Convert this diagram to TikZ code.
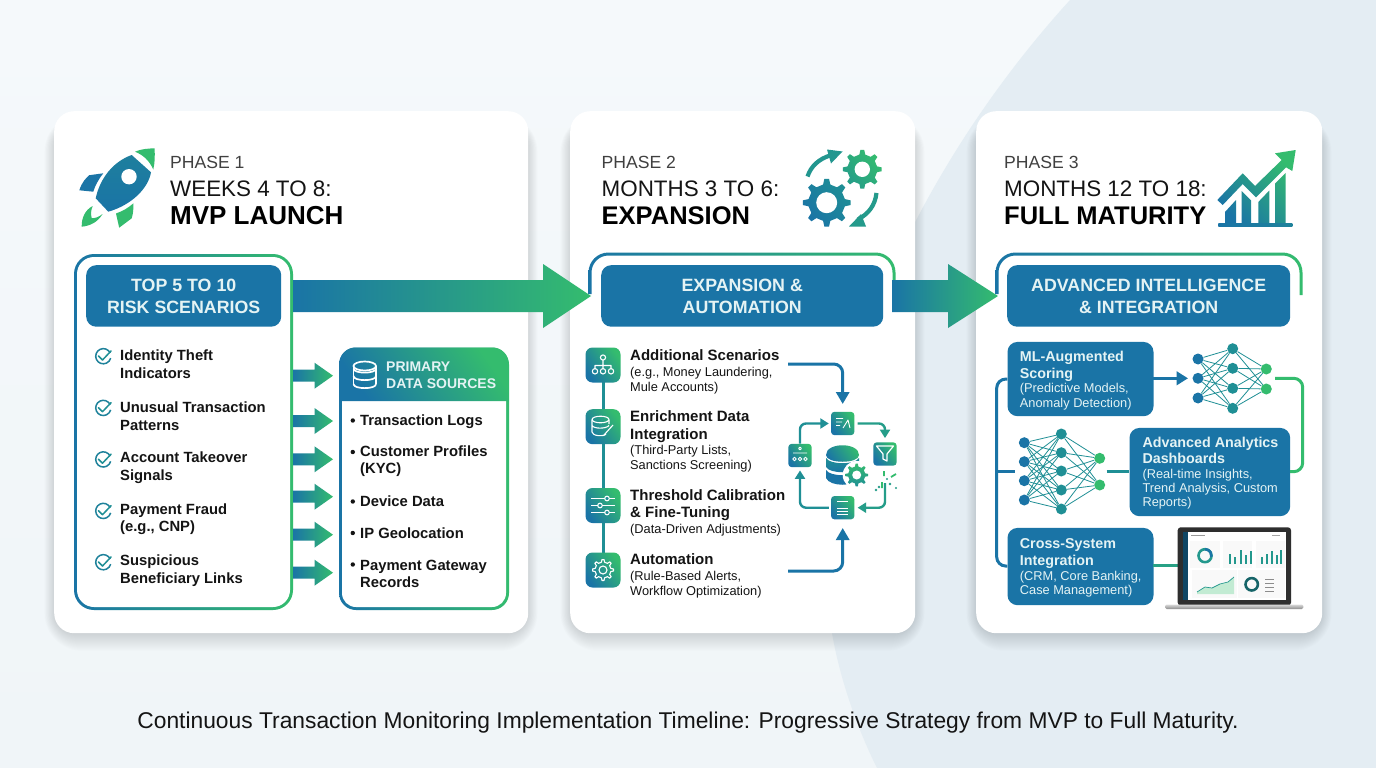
\documentclass[tikz,border=0pt]{standalone}
\usepackage{fontspec}
\setmainfont{Liberation Sans}
\usetikzlibrary{arrows.meta,calc}
\definecolor{cblue}{HTML}{1A74A6}
\definecolor{cgreen}{HTML}{34BC6E}
\definecolor{cteal}{HTML}{1F8F95}
\definecolor{cpale}{HTML}{E4F3F4}
\definecolor{cink}{HTML}{141414}
\definecolor{bgone}{HTML}{F5F9FB}
\definecolor{bgonb}{HTML}{F0F5F8}
\definecolor{bgtwo}{HTML}{E4EDF3}
\newcommand{\fs}[2]{\fontsize{#1}{#2}\selectfont}
% gear outline: centre x, centre y, root r, tip r, teeth
\newcommand{\gearpath}[5]{%
  ({#1+#3*cos(0-90/#5)},{#2+#3*sin(0-90/#5)})
  \foreach \gi [evaluate=\gi as \ga using {(\gi-1)*360/#5}] in {1,...,#5} {
    -- ({#1+#4*cos(\ga-45/#5)},{#2+#4*sin(\ga-45/#5)})
    -- ({#1+#4*cos(\ga+45/#5)},{#2+#4*sin(\ga+45/#5)})
    -- ({#1+#3*cos(\ga+90/#5)},{#2+#3*sin(\ga+90/#5)})
    -- ({#1+#3*cos(\ga+270/#5)},{#2+#3*sin(\ga+270/#5)})
  } -- cycle}
\tikzset{
  lr/.style={left color=cblue,right color=cgreen},
  diag/.style={bottom color=cblue,top color=cgreen,shading angle=-55},
  phasehead/.style={anchor=west,inner sep=0pt,text=black!75,font=\fs{17.6}{20}},
  weekhead/.style={anchor=west,inner sep=0pt,text=cink,font=\fs{22.4}{26}},
  titlehead/.style={anchor=west,inner sep=0pt,text=black,font=\fs{26}{30}\bfseries},
  titlesmall/.style={titlehead,font=\fs{25.5}{30}\bfseries},
  bandbox/.style={draw=none,fill=cblue,rounded corners=10pt,inner sep=0pt,text=cpale,align=center,font=\fs{17.8}{22}\bfseries},
  item/.style={anchor=west,inner sep=0pt,align=left,text=cink,font=\fs{14.8}{17.6}\bfseries},
  stepitem/.style={item,font=\fs{15}{17.5}\bfseries},
  bluebox/.style={draw=none,fill=cblue,rounded corners=10pt,inner sep=0pt},
  boxtext/.style={anchor=west,inner sep=0pt,align=left,text=cpale,font=\fs{14.3}{16.4}\bfseries},
  iconbox/.style={minimum size=35pt,inner sep=0pt,rounded corners=7pt,diag},
  miniicon/.style={minimum size=23.4pt,inner sep=0pt,rounded corners=3.5pt,diag},
  link/.style={line width=3pt,cblue,rounded corners=9pt},
  looplink/.style={line width=2.4pt,rounded corners=6pt,-{Triangle[length=8.5pt,width=10pt]}},
  neuron/.style={circle,minimum size=11pt,inner sep=0pt},
  synapse/.style={line width=.8pt,cteal},
  glyph/.style={draw=white,line width=1.1pt,fill=none},
}
\begin{document}
\begin{tikzpicture}[x=1pt,y=-1pt,line join=round]
\useasboundingbox (0,0) rectangle (1376,768);
% background
\shade[top color=bgone,bottom color=bgonb] (0,0) rectangle (1376,768);
\fill[bgtwo] (1070,0) .. controls (915,170) and (795,420) .. (832,633) .. controls (840,680) and (858,730) .. (877,768) -- (1376,768) -- (1376,0) -- cycle;
% card shadows and cards
\foreach \cx/\cw in {54/474,570/345,976/346}{
  \foreach \sd in {1,...,18}{
    \fill[black!55!cblue,opacity=.008,rounded corners=20pt+\sd pt] ({\cx-\sd*.6+1},{125-\sd*.6}) rectangle ({\cx+\cw+\sd*.6-1},{633+\sd});
  }
}
\node[fill=white,rounded corners=20pt,minimum width=474pt,minimum height=522pt,inner sep=0pt,anchor=north west] (cardA) at (54,111) {};
\node[fill=white,rounded corners=20pt,minimum width=345pt,minimum height=522pt,inner sep=0pt,anchor=north west] (cardB) at (570,111) {};
\node[fill=white,rounded corners=20pt,minimum width=346pt,minimum height=522pt,inner sep=0pt,anchor=north west] (cardC) at (976,111) {};

% ---------- headings
\node[phasehead] (pA) at (170,162.5) {PHASE 1};
\node[weekhead] (wA) at (170,189) {WEEKS 4 TO 8:};
\node[titlehead] (tA) at (170,216) {MVP LAUNCH};
\node[phasehead] (pB) at (601.5,162.5) {PHASE 2};
\node[weekhead] (wB) at (601.5,189) {MONTHS 3 TO 6:};
\node[titlesmall] (tB) at (601.5,216) {EXPANSION};
\node[phasehead] (pC) at (1004,162.5) {PHASE 3};
\node[weekhead] (wC) at (1004,189) {MONTHS 12 TO 18:};
\node[titlesmall] (tC) at (1004,216) {FULL MATURITY};

% rocket
\fill[cgreen] (135,151.7) .. controls (141,149) and (148,148.5) .. (154.5,148.3) .. controls (155,155) and (155,162) .. (153.3,169.5) .. controls (149,160) and (143,155) .. (135,151.7) -- cycle;
\shade[bottom color=cblue,top color=cblue!85!cgreen] (131.7,155) -- (151,172.3) .. controls (148.3,188.3) and (131.7,205) .. (108.3,211.7) -- (95.7,198.3) .. controls (100,178.3) and (113,161.7) .. (131.7,155) -- cycle;
\fill[white] (129,176.7) circle (7.7);
\fill[cblue] (79.3,190.3) .. controls (82,182) and (86,178) .. (89.3,175.2) -- (103.3,173.3) .. controls (98,180) and (95,186) .. (93.3,191.7) -- cycle;
\fill[cgreen] (116,213.5) .. controls (123,211) and (128,208) .. (133.5,203.3) .. controls (133.5,210) and (133,214) .. (131.7,218.3) -- (119.2,227.7) -- cycle;
\fill[cgreen] (92.7,206) .. controls (85,210) and (81.5,218) .. (81.7,226.7) .. controls (90,226) and (98,222) .. (102.5,214) .. controls (99,217) and (95,218.5) .. (91.7,218) .. controls (90.5,214) and (91,210) .. (92.7,206) -- cycle;

% gears icon
\shade[bottom color=cblue,top color=cteal,shading angle=-50] \gearpath{826.7}{202.7}{18.5}{24}{8};
\fill[white] (826.7,202.7) circle (10.5);
\shade[bottom color=cteal!70!cgreen,top color=cgreen,shading angle=-50] \gearpath{862.3}{169.3}{15}{19.5}{8};
\fill[white] (862.3,169.3) circle (7.7);
\draw[line width=4.2pt,cteal!85!cgreen] (807.5,176.5) .. controls (811,166) and (819,159) .. (830,155.5);
\fill[cteal!85!cgreen] (827,149.5) -- (842.5,151.5) -- (831,163.5) -- cycle;
\draw[line width=4.2pt,cteal!75!cgreen] (876.5,193) .. controls (875,206) and (868,214) .. (858,219.5);
\fill[cteal!75!cgreen] (849,226.5) -- (861,214) -- (866,226.5) -- cycle;

% growth chart icon
\shade[bottom color=cblue,top color=cgreen,shading angle=-45]
  (1225,212) -- (1236,200) -- (1236,224) -- (1225,224) -- cycle
  (1241.7,191) -- (1251,200.5) -- (1251,224) -- (1241.7,224) -- cycle
  (1258.3,202) -- (1269.3,190.5) -- (1269.3,224) -- (1258.3,224) -- cycle
  (1275,183.5) -- (1285.7,173) -- (1285.7,224) -- (1275,224) -- cycle
  (1217.3,200) -- (1242.7,173.3) -- (1255,186) -- (1281.7,160) -- (1275,153.3) -- (1295.7,150) -- (1292.3,171) -- (1286,167.3) -- (1256,197.3) -- (1242.7,184) -- (1222.7,205) -- cycle;
\shade[left color=cblue,right color=cblue!80!cgreen] (1218.3,223.3) rectangle (1292.3,226.7);

% ---------- frames of the panels
\shade[lr,rounded corners=20pt] (74,254) rectangle (293,610);
\fill[white,rounded corners=17pt] (77,257) rectangle (290,607);
\node[bandbox,minimum width=195pt,minimum height=61.5pt,anchor=north west] (bandA) at (86,265) {TOP 5 TO 10\\RISK SCENARIOS};

% open frames
\shade[lr] (588.5,294) [rounded corners=20pt] -- (588.5,252.5) -- (895.5,252.5) [sharp corners] -- (895.5,280) -- (892.5,280) [rounded corners=17pt] -- (892.5,255.5) -- (591.5,255.5) [sharp corners] -- (591.5,294) -- cycle;
\shade[lr] (995.5,294) [rounded corners=20pt] -- (995.5,252.5) -- (1302.5,252.5) [sharp corners] -- (1302.5,295) -- (1299.5,295) [rounded corners=17pt] -- (1299.5,255.5) -- (998.5,255.5) [sharp corners] -- (998.5,294) -- cycle;
\node[bandbox,minimum width=282pt,minimum height=61.5pt,anchor=north west] (bandB) at (601,265) {EXPANSION \&\\AUTOMATION};
\node[bandbox,minimum width=283pt,minimum height=61.5pt,anchor=north west] (bandC) at (1007,265) {ADVANCED INTELLIGENCE\\\& INTEGRATION};

% big arrows
\shade[lr] (293,280) -- (543,280) -- (543,264) -- (591,296) -- (543,328) -- (543,312) -- (293,312) -- cycle;
\shade[lr] (892,280) -- (948,280) -- (948,264) -- (998,296) -- (948,328) -- (948,312) -- (892,312) -- cycle;

% ---------- phase 1 risk list
\foreach \yc/\txt in {356/{Identity Theft\\Indicators},407.7/{Unusual Transaction\\Patterns},459.2/{Account Takeover\\Signals},510.7/{Payment Fraud\\(e.g., CNP)},562/{Suspicious\\Beneficiary Links}}{
  \draw[line width=1.5pt,cblue!80!cgreen] (110.2,\yc-3) arc (-25:-345:7.6);
  \draw[line width=1.5pt,cteal,line cap=round] (98.5,\yc) -- (102.5,\yc+4) -- (111,\yc-5);
  \node[item] at (120,\yc+8.4) {\txt};
}
% small arrows
\foreach \yc in {375.7,421,459.3,496.7,534.7,572.7}{
  \shade[lr] (293,\yc-6) -- (314.5,\yc-6) -- (314.5,\yc-13) -- (333,\yc) -- (314.5,\yc+13) -- (314.5,\yc+6) -- (293,\yc+6) -- cycle;
}
% data sources
\shade[lr,rounded corners=17pt] (339,347.5) rectangle (509,610);
\fill[white] (342,401) -- (506,401) [rounded corners=14pt] -- (506,607) -- (342,607) [sharp corners] -- cycle;
\shade[diag] (339.5,401) [rounded corners=16pt] -- (339.5,347.5) -- (508.5,347.5) [sharp corners] -- (508.5,401) -- cycle;
\foreach \dy in {368.5,376,384}{
  \draw[glyph,line width=1.7pt] (353.5,\dy) .. controls (353.5,\dy+5.5) and (376,\dy+5.5) .. (376,\dy);
}
\draw[glyph,line width=1.7pt] (364.75,366) ellipse (11.25 and 4.5);
\draw[glyph,line width=1.7pt] (353.5,366) -- (353.5,384) (376,366) -- (376,384);
\node[anchor=west,inner sep=0pt,align=left,text=cpale,font=\fs{14}{17.5}\bfseries] (dsHead) at (386,375) {PRIMARY\\DATA SOURCES};
\foreach \yc/\txt in {421.5/{Transaction Logs},461.2/{Customer Profiles\\(KYC)},501/{Device Data},533/{IP Geolocation},573.7/{Payment Gateway\\Records}}{
  \node[item] at (360,\yc) {\txt};
}
\foreach \yc in {420,451.5,501,532.5,564}{ \fill[cink] (352.8,\yc+.5) circle (2.2); }

% ---------- phase 2 steps
\draw[line width=3pt,cteal] (603,365) -- (603,570);
\node[iconbox] (ib1) at (603,365) {};
\node[iconbox] (ib2) at (603,426.7) {};
\node[iconbox] (ib3) at (603,505.5) {};
\node[iconbox] (ib4) at (603,570) {};
% org glyph
\draw[glyph] (603,357.5) circle (2.6) (603,360) -- (603,365.5) (595,368.5) -- (595,365.5) -- (611,365.5) -- (611,368.5) (603,365.5) -- (603,368.5);
\draw[glyph] (595,371.3) circle (2.7) (603,371.3) circle (2.7) (611,371.3) circle (2.7);
% db-edit glyph
\draw[glyph] (600.5,419.5) ellipse (8.5 and 3.3);
\draw[glyph] (592,419.5) -- (592,432) .. controls (592,436) and (604,437) .. (606,434) (592,425.5) .. controls (594,429) and (606,429) .. (609,425.5) (609,419.5) -- (609,424);
\draw[glyph] (604,435) -- (613,425);
% sliders glyph
\draw[glyph] (591,498.5) -- (615,498.5) (591,505.5) -- (615,505.5) (591,512.5) -- (615,512.5);
\fill[cteal] (607,498.5) circle (2.3) (600,505.5) circle (2.3) (607,512.5) circle (2.3);
\draw[glyph] (607,498.5) circle (2.3) (600,505.5) circle (2.3) (607,512.5) circle (2.3);
% gear glyph
\draw[glyph] \gearpath{603}{570}{8}{10.5}{8};
\draw[glyph] (603,570) circle (4);

\node[stepitem] (st1) at (630,372) {Additional Scenarios\\[-1.5pt]{\fs{12.8}{14.5}\mdseries (e.g., Money Laundering,}\\[-2.5pt]{\fs{12.8}{14.5}\mdseries Mule Accounts)}};
\node[stepitem] (st2) at (630,441.7) {Enrichment Data\\Integration\\[-2pt]{\fs{12.8}{15}\mdseries (Third-Party Lists,}\\[-2.5pt]{\fs{12.8}{15}\mdseries Sanctions Screening)}};
\node[stepitem] (st3) at (630,513) {Threshold Calibration\\\& Fine-Tuning\\[-1.5pt]{\fs{12.8}{15}\mdseries (Data-Driven Adjustments)}};
\node[stepitem] (st4) at (630,576) {Automation\\[-1.5pt]{\fs{12.8}{14.5}\mdseries (Rule-Based Alerts,}\\[-2.5pt]{\fs{12.8}{14.5}\mdseries Workflow Optimization)}};

% mini cycle
\node[miniicon] (mT) at (842.7,423.5) {};
\node[miniicon] (mL) at (800,455.5) {};
\node[miniicon] (mR) at (885,454) {};
\node[miniicon] (mB) at (842.7,507.7) {};
\coordinate (inTop) at (788,364);
\coordinate (inBot) at (788,571);
\draw[link,-{Triangle[length=12pt,width=13pt]}] (inTop) -| (mT.north |- 0,404);
\draw[link,-{Triangle[length=12pt,width=13pt]}] (inBot) -| (mB.south |- 0,528);
\draw[looplink,cteal] (mL.north) |- ([xshift=-2pt]mT.west);
\draw[looplink,cteal!70!cgreen] ([xshift=3pt]mT.east) -| ([yshift=4pt]mR.north);
\coordinate (scatter) at (885,483);
\draw[looplink,cteal!70!cgreen] (scatter) |- ([xshift=3pt]mB.east);
\draw[looplink,cteal] ([xshift=-2pt]mB.west) -| ([yshift=-3pt]mL.south);
% mini glyphs
\draw[glyph,line width=.9pt] (836,418.5) -- (843,418.5) (836,422) -- (842,422) (836,425.5) -- (840,425.5) (843,428) -- (848,420) -- (850,428);
\draw[glyph,line width=.9pt] (800,448.5) circle (1.4) (793,453) -- (807,453);
\draw[glyph,line width=.9pt] (794.5,459) circle (1.8) (800,459) circle (1.8) (805.5,459) circle (1.8);
\draw[glyph,line width=1.2pt] (876.5,446) -- (893.5,446) -- (887,454) -- (887,461) -- (883,459) -- (883,454) -- cycle;
\draw[glyph,line width=.9pt] (837,501.5) -- (848,501.5) (837,508) -- (848,508) (837,511) -- (848,511) (837,514) -- (848,514);
% scatter marks
\draw[cgreen,line width=1.8pt] (884,471) -- (884,476) (882,488) -- (882,482) (891,477) -- (896,474);
\fill[cteal!70!cgreen] (879,487) circle (1.4) (876,490) circle (1.3) (890,484) circle (1.3) (896,488) circle (1.2) (887,479) circle (1.1);
% centre database
\shade[diag] (826,455) .. controls (826,442) and (859,442) .. (859,455) .. controls (859,464) and (826,464) .. (826,455) -- cycle;
\shade[bottom color=cblue,top color=cteal] (826,458) .. controls (830,465) and (855,465) .. (859,458) -- (859,467) .. controls (855,474) and (830,474) .. (826,467) -- cycle;
\shade[bottom color=cblue,top color=cblue] (826,470) .. controls (830,477) and (855,477) .. (859,470) -- (859,478) .. controls (855,487) and (830,487) .. (826,478) -- cycle;
\fill[white] (856.7,475) circle (14);
\shade[bottom color=cteal,top color=cgreen] \gearpath{856.7}{475}{8.6}{11.5}{8};
\fill[white] (856.7,475) circle (4.5);

% ---------- phase 3
\node[bluebox,minimum width=146pt,minimum height=74.3pt,anchor=north west] (bML) at (1007.3,341.7) {};
\node[bluebox,minimum width=160.7pt,minimum height=88.3pt,anchor=north west] (bAA) at (1129.3,427.7) {};
\node[bluebox,minimum width=146pt,minimum height=77.3pt,anchor=north west] (bCS) at (1007.3,527.7) {};
\node[boxtext] (tML) at (1019.7,380.5) {ML-Augmented\\Scoring\\[-1.5pt]{\fs{12.8}{14.2}\mdseries (Predictive Models,}\\[-2.2pt]{\fs{12.8}{14.2}\mdseries Anomaly Detection)}};
\node[boxtext] (tAA) at (1142.3,473) {Advanced Analytics\\Dashboards\\[-1.5pt]{\fs{12.8}{14.6}\mdseries (Real-time Insights,}\\[-2.2pt]{\fs{12.8}{14.6}\mdseries Trend Analysis, Custom}\\[-2.2pt]{\fs{12.8}{14.6}\mdseries Reports)}};
\node[boxtext] (tCS) at (1019.7,568) {Cross-System\\Integration\\[-1.5pt]{\fs{12.8}{14.2}\mdseries (CRM, Core Banking,}\\[-2.2pt]{\fs{12.8}{14.2}\mdseries Case Management)}};

% upper network
\foreach \nm/\xx/\yy/\cc in {a1/1198/359/cblue,a2/1198/378.3/cblue,a3/1198/398/cblue,b1/1232.7/348.7/cteal,b2/1232.7/368.3/cteal,b3/1232.7/388.3/cteal,b4/1232.7/408.3/cteal,c1/1266.3/369/cgreen,c2/1266.3/389/cgreen}{
  \node[neuron,fill=\cc] (\nm) at (\xx,\yy) {};
}
\foreach \s in {a1,a2,a3}{\foreach \t in {b1,b2,b3,b4}{\draw[synapse] (\s) -- (\t);}}
\foreach \s in {b1,b2,b3,b4}{\foreach \t in {c1,c2}{\draw[synapse] (\s) -- (\t);}}
% lower network
\foreach \nm/\xx/\yy/\cc in {d1/1024.3/442.7/cblue,d2/1024.3/461.7/cblue,d3/1024.3/480.7/cblue,d4/1024.3/500/cblue,e1/1061.3/434/cteal,e2/1061.3/452.7/cteal,e3/1061.3/471/cteal,e4/1061.3/490/cteal,e5/1061.3/509/cteal,f1/1099.7/458.3/cgreen,f2/1099.7/485/cgreen}{
  \node[neuron,fill=\cc] (\nm) at (\xx,\yy) {};
}
\foreach \s in {d1,d2,d3,d4}{\foreach \t in {e1,e2,e3,e4,e5}{\draw[synapse] (\s) -- (\t);}}
\foreach \s in {e1,e2,e3,e4,e5}{\foreach \t in {f1,f2}{\draw[synapse] (\s) -- (\t);}}
% connectors
\coordinate (netInA) at (1188,378.3);
\coordinate (netOutA) at (1275,378.3);
\coordinate (netInB) at (1015,471.7);
\coordinate (netOutB) at (1106.7,471.7);
\coordinate (lapIn) at (1178,565.7);
\draw[link] (bML.west) -- ++(-10.6,0) -- ++(0,187) -- ++(10.6,0);
\draw[link,rounded corners=0pt] (996.7,471.7) -- (netInB);
\draw[link,rounded corners=0pt,-{Triangle[length=11.5pt,width=13.5pt]}] (1153.3,378.3) -- (netInA);
\draw[link,cgreen] (netOutA) -- ++(27.7,0) -- ++(0,93.4) -- ++(-12.7,0);
\draw[link,rounded corners=0pt,cteal] (netOutB) -- (1129.3,471.7);
\draw[link,rounded corners=0pt,cteal!60!cgreen] (1153.3,565.7) -- (lapIn);

% laptop
\fill[black!82,rounded corners=3pt] (1177.7,527.3) rectangle (1291,605.5);
\shade[top color=black!15,bottom color=black!45,rounded corners=1.5pt] (1165,604.5) rectangle (1303.3,609);
\fill[white] (1182.7,531.7) rectangle (1286,600);
\fill[cblue!60!black] (1182.7,531.7) rectangle (1188,600);
\fill[black!40] (1191,534.5) rectangle (1205,536);
\fill[black!35] (1272,534.5) rectangle (1280,536);
\foreach \px/\py/\qx/\qy in {1190/541/1220/568,1223.3/541/1251.7/568,1255.7/541/1285/568,1191.7/570/1236.7/598,1238/570/1285/598}{
  \fill[black!2.5] (\px,\py) rectangle (\qx,\qy);
}
\draw[cteal!80!cgreen,line width=2.6pt] (1205,555.7) circle (6.5);
\draw[cblue,line width=2.6pt] (1205,549.2) arc (-90:10:6.5);
\foreach \bx/\bh in {1229/10,1234/7,1240/14,1245/9,1250/13}{\fill[cteal!80!cgreen] (\bx,564-\bh) rectangle (\bx+1.6,564);}
\foreach \bx/\bh in {1261/7,1266/10,1271/13,1276/9,1280/14}{\fill[cteal!80!cgreen] (\bx,564-\bh) rectangle (\bx+1.6,564);}
\fill[cgreen!30] (1197,592) -- (1205,587) -- (1212,588) -- (1220,584) -- (1228,582) -- (1234,577) -- (1234,594) -- (1197,594) -- cycle;
\draw[cteal!80!cgreen,line width=.7pt] (1197,592) -- (1205,587) -- (1212,588) -- (1220,584) -- (1228,582) -- (1234,577);
\draw[cteal!70!black,line width=2.6pt] (1251.7,584.3) circle (6.2);
\foreach \ly in {579,583,587,591}{\fill[black!45] (1265,\ly) rectangle (1274,\ly+1);}

% caption
\node[inner sep=0pt,text=cink,font=\fs{22.8}{26}] (caption) at (688,722.5) {Continuous Transaction Monitoring Implementation Timeline: Progressive Strategy from MVP to Full Maturity.};
\end{tikzpicture}
\end{document}
